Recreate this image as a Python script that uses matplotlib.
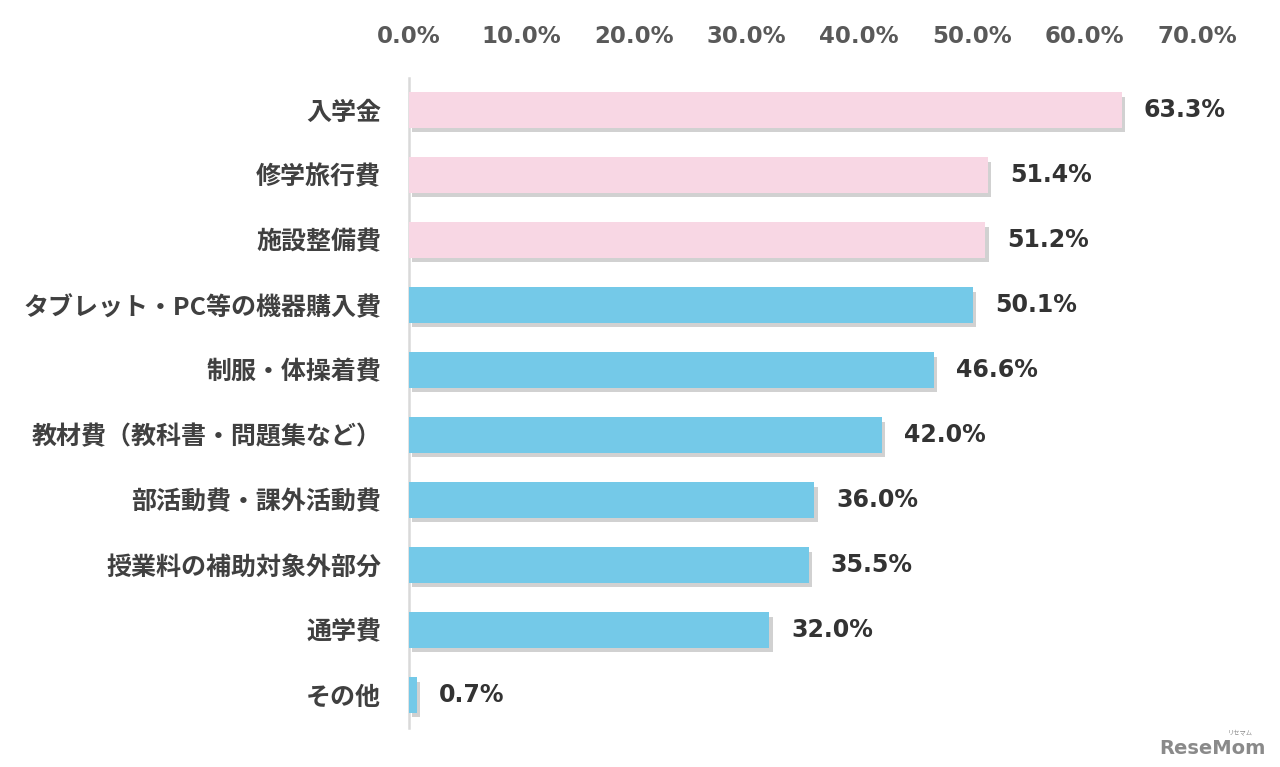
import matplotlib
matplotlib.use("Agg")
import matplotlib.pyplot as plt
import matplotlib.patheffects as pe

categories = ["入学金", "修学旅行費", "施設整備費", "タブレット・PC等の機器購入費", "制服・体操着費",
              "教材費（教科書・問題集など）", "部活動費・課外活動費", "授業料の補助対象外部分", "通学費", "その他"]
values = [63.3, 51.4, 51.2, 50.1, 46.6, 42.0, 36.0, 35.5, 32.0, 0.7]
highlight = [True, True, True, False, False, False, False, False, False, False]
xticks = [0, 10, 20, 30, 40, 50, 60, 70]

PINK = "#F8D7E4"
BLUE = "#74C9E8"

plt.rcParams['font.family'] = ['Noto Sans CJK JP', 'DejaVu Sans']

fig = plt.figure(figsize=(12.8, 7.67), dpi=100)
ax = fig.add_axes([409/1280, 1-727.5/767, (1197-409)/1280, (727.5-77.5)/767])

y = list(range(len(categories)))
colors = [PINK if h else BLUE for h in highlight]
bars = ax.barh(y, values, height=0.54, color=colors, zorder=3)
for b in bars:
    b.set_path_effects([pe.SimplePatchShadow(offset=(2.5, -3), shadow_rgbFace="#999999", alpha=0.45),
                        pe.Normal()])

ax.set_ylim(len(categories) - 0.5, -0.5)
ax.set_xlim(0, 70)
ax.set_xticks(xticks)
ax.set_xticklabels([f"{t:.1f}%" for t in xticks], family=['DejaVu Sans'], fontweight='bold',
                   fontsize=16.5, color="#595959")
ax.xaxis.tick_top()
ax.tick_params(axis='x', length=0, pad=21)
ax.set_yticks(y)
ax.set_yticklabels(categories, fontweight='bold', fontsize=18, color="#404040")
ax.tick_params(axis='y', length=0, pad=20)

for s in ["top", "right", "bottom"]:
    ax.spines[s].set_visible(False)
ax.spines["left"].set_color("#D9D9D9")
ax.spines["left"].set_linewidth(1.8)

for yi, v in zip(y, values):
    ax.annotate(f"{v:.1f}%", xy=(v, yi), xytext=(16, 0), textcoords="offset points",
                ha="left", va="center", fontsize=17, fontweight="bold", color="#333333",
                family=['DejaVu Sans'])

fig.text(1212/1280, 1-748/767, "ReseMom", ha="center", va="center", fontsize=14,
         fontweight="bold", color="#8A8A8A", family=['DejaVu Sans'])
fig.text(1240/1280, 1-732/767, "リセマム", ha="center", va="center", fontsize=4.5, color="#8A8A8A")

fig.savefig("out.png", dpi=100, facecolor="white")
